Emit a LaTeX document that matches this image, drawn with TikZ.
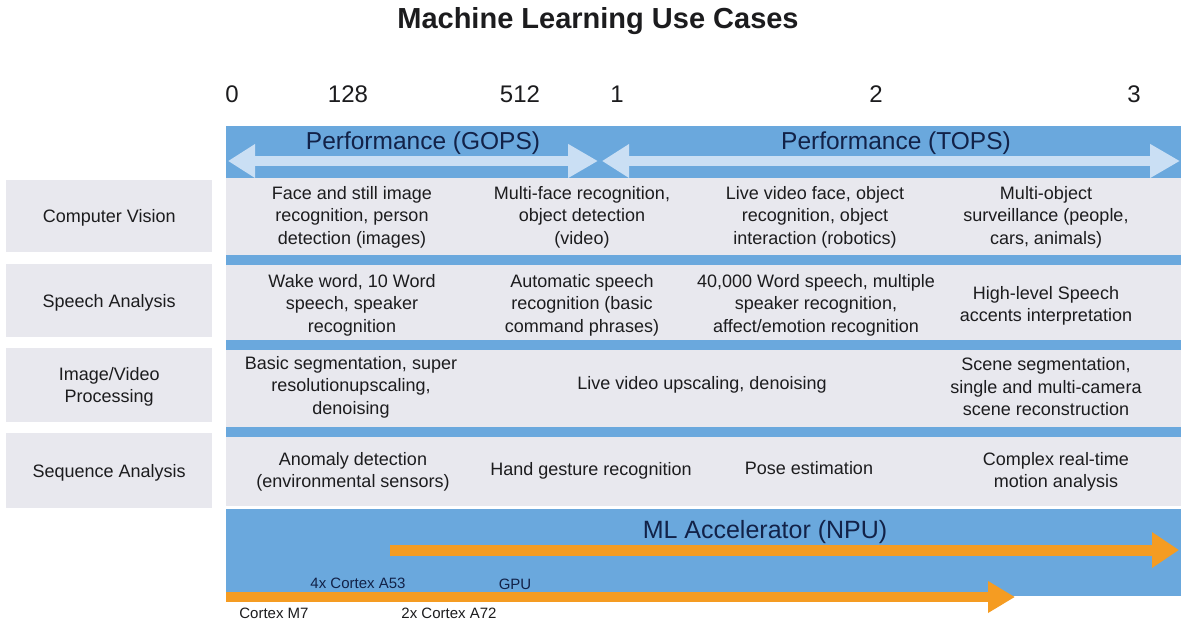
\documentclass[tikz,border=0pt]{standalone}
\usepackage{fontspec}
\setmainfont{Liberation Sans}
\usetikzlibrary{arrows.meta}

\definecolor{bandblue}{RGB}{106,168,221}
\definecolor{rowgray}{RGB}{232,232,238}
\definecolor{arrowpale}{RGB}{202,223,244}
\definecolor{navy}{RGB}{18,34,72}
\definecolor{inkgray}{RGB}{28,28,30}
\definecolor{accent}{RGB}{245,156,34}

\begin{document}
\begin{tikzpicture}[x=1pt,y=-1pt,
  titletext/.style={font=\fontsize{29}{34}\selectfont\bfseries, text=inkgray, inner sep=0pt},
  axisnum/.style={font=\fontsize{24}{28}\selectfont, text=inkgray, inner sep=0pt},
  perftext/.style={font=\fontsize{24.5}{28}\selectfont, text=navy, inner sep=0pt},
  npulabel/.style={font=\fontsize{25}{29}\selectfont, text=navy, inner sep=0pt},
  cell/.style={font=\fontsize{18}{22.5}\selectfont, text=inkgray, align=center, inner sep=0pt},
  catbox/.style={fill=rowgray, minimum width=206pt, inner sep=0pt, anchor=north west},
  cattext/.style={font=\fontsize{18}{22}\selectfont, text=inkgray, align=center, inner sep=0pt},
  rowbox/.style={fill=rowgray, minimum width=955pt, inner sep=0pt, anchor=north west},
  corelabel/.style={font=\fontsize{15}{18}\selectfont, text=inkgray, inner sep=0pt},
  corelabelblue/.style={font=\fontsize{15}{18}\selectfont, text=navy, inner sep=0pt},
  perfarrow/.style={draw=arrowpale, line width=10pt,
    {Triangle[length=27pt,width=32pt]}-{Triangle[length=30pt,width=32pt]}},
  hwarrow/.style={draw=accent, line width=11pt}
]
\useasboundingbox[fill=white] (0,0) rectangle (1185,623);

% title and scale
\node[titletext] (title) at (598,21.5) {Machine Learning Use Cases};
\node[axisnum] (t0)   at (232,94) {0};
\node[axisnum] (t128) at (348,94) {128};
\node[axisnum] (t512) at (520,94) {512};
\node[axisnum] (t1)   at (617,94) {1};
\node[axisnum] (t2)   at (876,94) {2};
\node[axisnum] (t3)   at (1134,94) {3};

% blue backing of the use-case grid and the hardware band
\fill[bandblue] (226,126) rectangle (1181,506);
\fill[bandblue] (226,509) rectangle (1181,596);

% performance range arrows
\coordinate (gopsL) at (228,161);
\coordinate (gopsR) at (598,161);
\coordinate (topsL) at (602,161);
\coordinate (topsR) at (1180,161);
\draw[perfarrow] (gopsL) -- (gopsR);
\draw[perfarrow] (topsL) -- (topsR);
\node[perftext] (gops) at (423,143.5) {Performance (GOPS)};
\node[perftext] (tops) at (896,143.5) {Performance (TOPS)};

% use-case rows
\node[rowbox, minimum height=77pt] (row1) at (226,178) {};
\node[rowbox, minimum height=75pt] (row2) at (226,265) {};
\node[rowbox, minimum height=77pt] (row3) at (226,350) {};
\node[rowbox, minimum height=69pt] (row4) at (226,437) {};

% category labels
\node[catbox, minimum height=72pt] (cv)  at (6,180) {};
\node[catbox, minimum height=73pt] (sa)  at (6,264) {};
\node[catbox, minimum height=74pt] (ivp) at (6,348) {};
\node[catbox, minimum height=75pt] (seq) at (6,433) {};
\node[cattext] (cvt)  at ([yshift=-2pt]cv.center)  {Computer Vision};
\node[cattext] (sat)  at ([yshift=-2pt]sa.center)  {Speech Analysis};
\node[cattext] (ivpt) at ([yshift=-2pt]ivp.center) {Image/Video\\Processing};
\node[cattext] (seqt) at ([yshift=-2pt]seq.center) {Sequence Analysis};

% computer vision
\node[cell] (cv1) at (352,217) {Face and still image\\recognition, person\\detection (images)};
\node[cell] (cv2) at (582,217) {Multi-face recognition,\\object detection\\(video)};
\node[cell] (cv3) at (815,217) {Live video face, object\\recognition, object\\interaction (robotics)};
\node[cell] (cv4) at (1046,217) {Multi-object\\surveillance (people,\\cars, animals)};

% speech analysis
\node[cell] (sa1) at (352,305) {Wake word, 10 Word\\speech, speaker\\recognition};
\node[cell] (sa2) at (582,305) {Automatic speech\\recognition (basic\\command phrases)};
\node[cell] (sa3) at (816,305) {40,000 Word speech, multiple\\speaker recognition,\\affect/emotion recognition};
\node[cell] (sa4) at (1046,306) {High-level Speech\\accents interpretation};

% image / video processing
\node[cell] (ivp1) at (351,387) {Basic segmentation, super\\resolutionupscaling,\\denoising};
\node[cell] (ivp2) at (702,385) {Live video upscaling, denoising};
\node[cell] (ivp3) at (1046,387) {Scene segmentation,\\single and multi-camera\\scene reconstruction};

% sequence analysis
\node[cell] (seq1) at (353,472) {Anomaly detection\\(environmental sensors)};
\node[cell] (seq2) at (591,471) {Hand gesture recognition};
\node[cell] (seq3) at (809,468) {Pose estimation};
\node[cell] (seq4) at (1056,472) {Complex real-time\\motion analysis};

% hardware band
\node[npulabel] (npu) at (765,532) {ML Accelerator (NPU)};
\coordinate (npuS) at (390,550);
\coordinate (npuE) at (1179,550);
\draw[hwarrow, -{Triangle[length=27pt,width=34pt]}] (npuS) -- (npuE);
\coordinate (cpuS) at (226,597);
\coordinate (cpuE) at (1015,597);
\draw[hwarrow, line width=10pt, -{Triangle[length=27pt,width=30pt]}] (cpuS) -- (cpuE);

\node[corelabelblue] (a53) at (358,583) {4x Cortex A53};
\node[corelabelblue] (gpu) at (515,584) {GPU};
\node[corelabel] (m7)  at (274,613) {Cortex M7};
\node[corelabel] (a72) at (449,613) {2x Cortex A72};
\end{tikzpicture}
\end{document}
